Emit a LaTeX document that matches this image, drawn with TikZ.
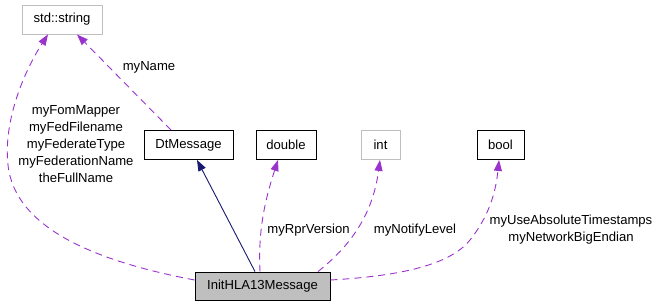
\documentclass[tikz,border=0pt]{standalone}
\usepackage{fontspec}
\setmainfont{Liberation Sans}
\usetikzlibrary{arrows.meta}
\definecolor{edgepurple}{HTML}{9A32CD}
\definecolor{edgenavy}{HTML}{191970}
\definecolor{boxgray}{HTML}{BFBFBF}
\begin{document}
\begin{tikzpicture}[x=1pt,y=-1pt,
  font=\fontsize{13.1}{17}\selectfont,
  cls/.style={draw=black,line width=0.9pt,rectangle,inner sep=0pt,minimum height=29pt,fill=white},
  ext/.style={cls,draw=boxgray},
  cur/.style={cls,fill=boxgray},
  usage/.style={draw=edgepurple,line width=0.9pt,dash pattern=on 7pt off 5pt,
     -{Triangle[length=11pt,width=8pt,fill=edgepurple]}},
  inherit/.style={draw=edgenavy,line width=0.9pt,
     -{Triangle[length=11pt,width=8pt,fill=edgenavy]}},
  lbl/.style={align=center,inner sep=0pt}]
\path[use as bounding box] (0,0) rectangle (661,307);

\node[ext, minimum width=80pt] (str) at (62,19.5) {std::string};
\node[cls, minimum width=89pt] (dt) at (188.5,145) {DtMessage};
\node[cls, minimum width=60pt] (dbl) at (286,145) {double};
\node[ext, minimum width=39pt] (int) at (380.5,145) {int};
\node[cls, minimum width=47pt] (bool) at (500.5,145) {bool};
\node[cur, minimum width=135pt, minimum height=28pt] (main) at (262.5,286) {InitHLA13Message};

\coordinate (m1) at (main.west |- 0,280);
\draw[usage] (m1) .. controls (100,262) and (15,230) .. (8,165)
  .. controls (3,120) and (25,70) .. (str.south -| 48,0);
\draw[usage] (dt.north -| 171,0) -- (str.south -| 77,0);
\draw[inherit] (main.north -| 255,0) -- (dt.south -| 197,0);
\draw[usage] (main.north -| 260,0) .. controls (258,230) and (265,200) .. (dbl.south -| 278,0);
\draw[usage] (main.north -| 318,0) .. controls (345,250) and (372,220) .. (int.south -| 380,0);
\coordinate (m2) at (main.east |- 0,280);
\draw[usage] (m2) .. controls (400,276) and (450,265) .. (470,240)
  .. controls (490,215) and (496,190) .. (bool.south -| 499,0);

\node[lbl] (l1) at (76,144) {myFomMapper\\myFedFilename\\myFederateType\\myFederationName\\theFullName};
\node[lbl] (l2) at (149,67) {myName};
\node[lbl] (l3) at (308.5,230) {myRprVersion};
\node[lbl] (l4) at (415,230) {myNotifyLevel};
\node[lbl] (l5) at (571,230) {myUseAbsoluteTimestamps\\myNetworkBigEndian};
\end{tikzpicture}
\end{document}
